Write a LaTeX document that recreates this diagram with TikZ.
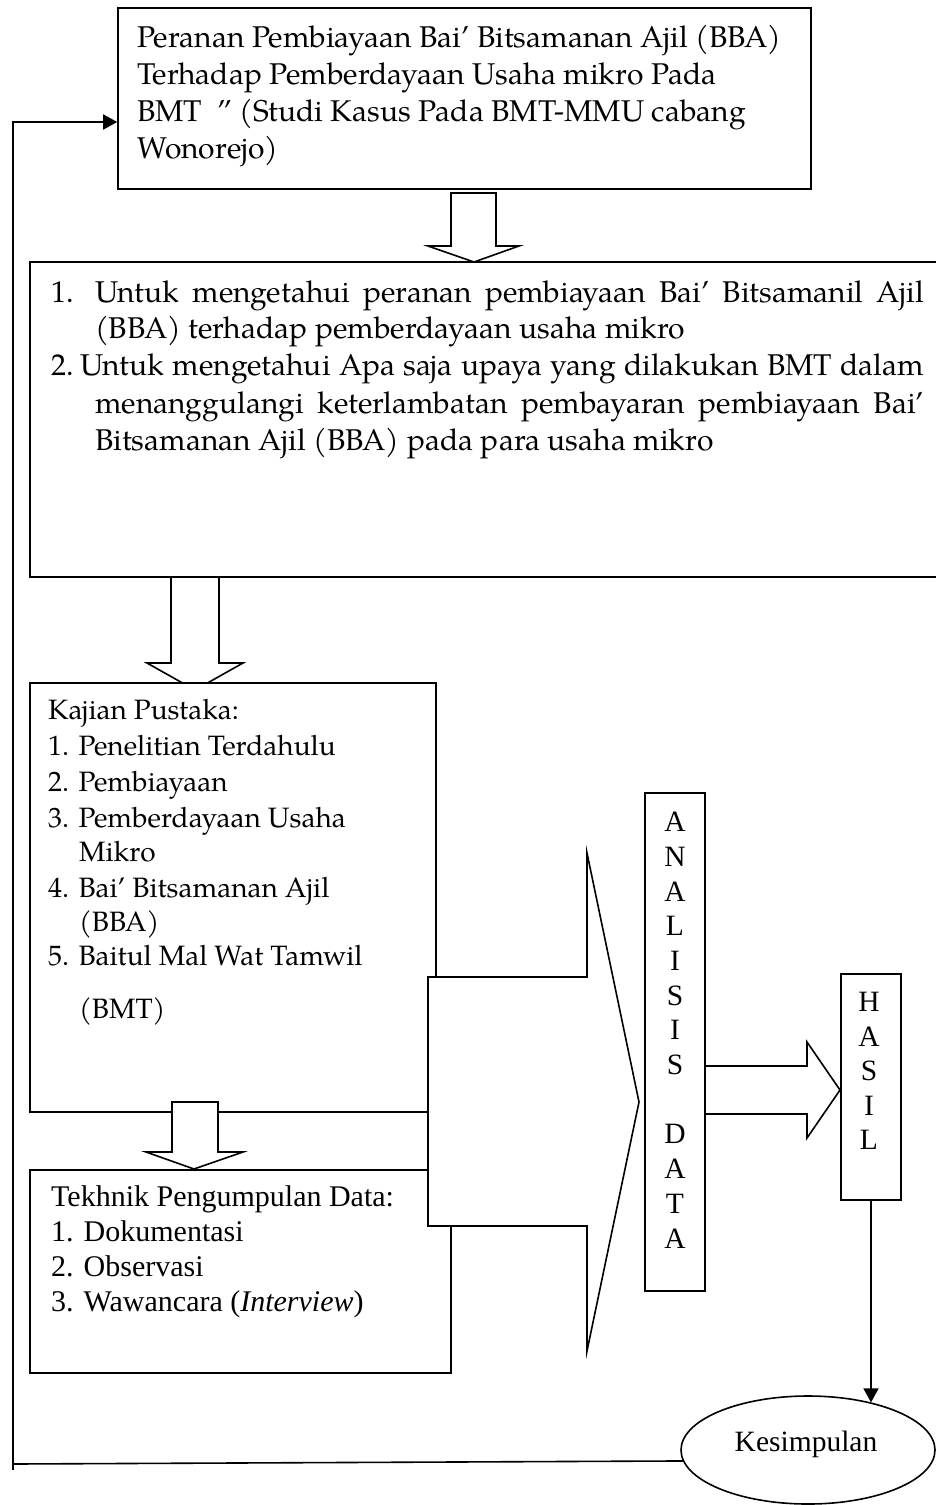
\documentclass[tikz,border=0pt]{standalone}
\usepackage{fontspec}
\setmainfont{texgyrepagella}[Extension=.otf,UprightFont=*-regular,ItalicFont=*-italic,BoldFont=*-bold,BoldItalicFont=*-bolditalic]
\newfontfamily\timesf{Liberation Serif}
\usetikzlibrary{shapes.geometric,arrows.meta}
\begin{document}
\begin{tikzpicture}[x=1pt,y=-1pt,
  box/.style={draw,fill=white,line width=1.6pt,inner sep=0pt},
  blk/.style={draw,fill=white,line width=1.6pt,line join=miter},
  pal/.style={anchor=base west,inner sep=0pt,font=\fontsize{28}{34}\selectfont},
  palb/.style={anchor=base west,inner sep=0pt,font=\fontsize{30}{36}\selectfont},
  tim/.style={anchor=base west,inner sep=0pt,font=\timesf\fontsize{30}{35}\selectfont},
  let/.style={inner sep=0pt,font=\timesf\fontsize{29.5}{35}\selectfont},
  conn/.style={line width=1.6pt},
  tip/.style={-{Triangle[length=14pt,width=15pt]}}]
\useasboundingbox (0,0) rectangle (935,1505);
% arrow 1
\draw[blk] (451,193) -- (496,193) -- (496,246) -- (519,246) -- (474,262) -- (428,246) -- (451,246) -- cycle;
% top box
\node[box,minimum width=693pt,minimum height=181pt] (top) at (464.5,98.5) {};
\node[palb] (t1) at (137,47) {Peranan Pembiayaan Bai’ Bitsamanan Ajil (BBA)};
\node[palb] (t2) at (137,84) {Terhadap Pemberdayaan Usaha mikro Pada};
\node[palb] (t3) at (137,121) {BMT\ \ ” (Studi Kasus Pada BMT-MMU cabang};
\node[palb] (t4) at (137,158) {Wonorejo)};
% box 2
\node[box,minimum width=910pt,minimum height=315pt] (tuj) at (485,419.5) {};
\node[palb] (u1n) at (51,302) {1.};
\node[palb] (u1) at (95,302) {\makebox[829pt][s]{Untuk mengetahui peranan pembiayaan Bai’ Bitsamanil Ajil}};
\node[palb] (u2) at (95,338) {(BBA) terhadap pemberdayaan usaha mikro};
\node[palb] (u3n) at (51,375) {2.};
\node[palb] (u3) at (80,375) {\makebox[844pt][s]{Untuk mengetahui Apa saja upaya yang dilakukan BMT dalam}};
\node[palb] (u4) at (95,413) {\makebox[829pt][s]{menanggulangi keterlambatan pembayaran pembiayaan Bai’}};
\node[palb] (u5) at (95,450) {Bitsamanan Ajil (BBA) pada para usaha mikro};
% arrow 2
\draw[blk] (171,577) -- (219,577) -- (219,663) -- (243,663) -- (195,690) -- (147,663) -- (171,663) -- cycle;
% kajian box
\node[box,minimum width=406pt,minimum height=429pt] (kaj) at (233,897.5) {};
\node[pal] (k0) at (48,719) {Kajian Pustaka:};
\node[pal] (k1) at (48,755) {1. Penelitian Terdahulu};
\node[pal] (k2) at (48,791) {2. Pembiayaan};
\node[pal] (k3) at (48,827) {3. Pemberdayaan Usaha};
\node[pal] (k3b) at (79,861) {Mikro};
\node[pal] (k4) at (48,897) {4. Bai’ Bitsamanan Ajil};
\node[pal] (k4b) at (79,931) {(BBA)};
\node[pal] (k5) at (48,965) {5. Baitul Mal Wat Tamwil};
\node[pal] (k5b) at (79,1018) {(BMT)};
% tekhnik box
\node[box,minimum width=421pt,minimum height=203pt] (tek) at (240.5,1271.5) {};
\node[tim] (e0) at (51,1206) {Tekhnik Pengumpulan Data:};
\node[tim] (e1) at (51,1241) {1. Dokumentasi};
\node[tim] (e2) at (51,1276) {2. Observasi};
\node[tim] (e3) at (51,1311) {3. Wawancara (\textit{Interview})};
% arrow 3
\draw[blk] (172,1102) -- (218,1102) -- (218,1152) -- (243,1152) -- (194,1169) -- (146,1152) -- (172,1152) -- cycle;
% big arrow
\draw[blk] (428,977) -- (587,977) -- (587,853) -- (639,1102) -- (587,1351) -- (587,1226) -- (428,1226) -- cycle;
% analisis data
\node[box,minimum width=60pt,minimum height=498pt] (ana) at (675,1042) {};
\foreach \c [count=\i] in {A,N,A,L,I,S,I,S,{},D,A,T,A}
  \node[let] (ad\i) at (675,{822+(\i-1)*34.7}) {\c};
% right arrow
\draw[blk] (705,1066) -- (807,1066) -- (807,1042) -- (840,1090) -- (807,1138) -- (807,1114) -- (705,1114) -- cycle;
% hasil
\node[box,minimum width=60pt,minimum height=226pt] (hasil) at (871,1087) {};
\foreach \c [count=\i] in {H,A,S,I,L}
  \node[let] (hs\i) at (869,{1002+(\i-1)*34.5}) {\c};
% kesimpulan
\node[box,ellipse,minimum width=254pt,minimum height=108pt] (kes) at (808,1450) {};
\node[let,anchor=base] (kest) at (806,1451) {Kesimpulan};
% connectors
\coordinate (fb0) at (13,1470);
\coordinate (fb1) at (13,1464);
\coordinate (fb2) at (13,122);
\draw[conn] (kes.185) -- (fb1);
\draw[conn,tip] (fb0) -- (fb2) -- (fb2 -| top.west);
\draw[conn,tip] (hasil.south) -- (hasil.south |- kes.37);
\end{tikzpicture}
\end{document}
